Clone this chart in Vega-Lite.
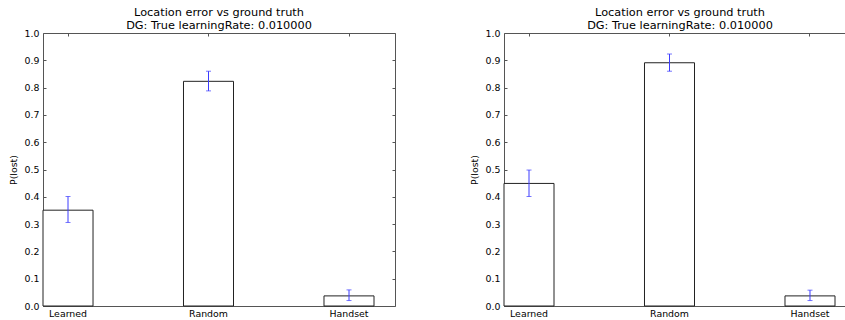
{
  "$schema": "https://vega.github.io/schema/vega-lite/v6.json",
  "padding": {"left": 8, "top": 7, "right": 0, "bottom": 0},
  "background": "white",
  "config": {
    "font": "DejaVu Sans",
    "view": {"stroke": null},
    "axis": {
      "labelFont": "DejaVu Sans", "labelFontSize": 9.4, "labelColor": "#000",
      "titleFont": "DejaVu Sans", "titleFontSize": 9.4, "titleFontWeight": "normal", "titleColor": "#000",
      "domainColor": "#555", "domainWidth": 1, "tickColor": "#555", "tickWidth": 1,
      "grid": false
    },
    "title": {"font": "DejaVu Sans", "fontSize": 11.3, "fontWeight": "normal", "color": "#000", "anchor": "middle", "frame": "group", "offset": -3, "lineHeight": 12.6}
  },
  "datasets": {
    "left": [
      {"method": "Learned", "p": 0.351, "lo": 0.306, "hi": 0.401},
      {"method": "Random", "p": 0.823, "lo": 0.788, "hi": 0.860},
      {"method": "Handset", "p": 0.037, "lo": 0.020, "hi": 0.059}
    ],
    "right": [
      {"method": "Learned", "p": 0.449, "lo": 0.401, "hi": 0.498},
      {"method": "Random", "p": 0.891, "lo": 0.860, "hi": 0.923},
      {"method": "Handset", "p": 0.037, "lo": 0.020, "hi": 0.058}
    ]
  },
  "spacing": 73,
  "hconcat": [
    {
      "width": 352, "height": 273,
      "data": {"name": "left"},
      "title": {"text": ["Location error vs ground truth", "DG: True learningRate: 0.010000"]},
      "resolve": {"axis": {"x": "independent", "y": "independent"}},
      "layer": [
        {
          "mark": {"type": "bar", "fill": "white", "stroke": "#222", "strokeWidth": 1},
          "encoding": {
            "x": {"field": "method", "type": "nominal", "sort": null,
                  "scale": {"paddingInner": 0.644, "paddingOuter": 0.0747, "align": 0},
                  "axis": {"orient": "bottom", "title": null, "labelAngle": 0, "tickSize": -3, "labelPadding": 6}},
            "y": {"field": "p", "type": "quantitative",
                  "scale": {"domain": [0, 1], "nice": false},
                  "axis": {"orient": "left", "title": "P(lost)", "values": [0,0.1,0.2,0.3,0.4,0.5,0.6,0.7,0.8,0.9,1.0], "format": ".1f", "tickSize": -3, "labelPadding": 7, "titlePadding": 6}}
          }
        },
        {
          "mark": {"type": "rule", "color": "#3c3cff", "strokeWidth": 1},
          "encoding": {
            "x": {"field": "method", "type": "nominal", "sort": null,
                  "axis": {"orient": "top", "title": null, "labels": false, "tickSize": -3}},
            "y": {"field": "lo", "type": "quantitative",
                  "axis": {"orient": "right", "title": null, "labels": false, "tickSize": -3, "values": [0,0.1,0.2,0.3,0.4,0.5,0.6,0.7,0.8,0.9,1.0]}},
            "y2": {"field": "hi"}
          }
        },
        {
          "mark": {"type": "tick", "color": "#3c3cff", "size": 5, "thickness": 1},
          "encoding": {
            "x": {"field": "method", "type": "nominal", "sort": null, "axis": null},
            "y": {"field": "lo", "type": "quantitative", "axis": null}
          }
        },
        {
          "mark": {"type": "tick", "color": "#3c3cff", "size": 5, "thickness": 1},
          "encoding": {
            "x": {"field": "method", "type": "nominal", "sort": null, "axis": null},
            "y": {"field": "hi", "type": "quantitative", "axis": null}
          }
        }
      ]
    },
    {
      "width": 343, "height": 273,
      "data": {"name": "right"},
      "title": {"text": ["Location error vs ground truth", "DG: True learningRate: 0.010000"], "dx": 4.5},
      "resolve": {"axis": {"x": "independent", "y": "independent"}},
      "layer": [
        {
          "mark": {"type": "bar", "fill": "white", "stroke": "#222", "strokeWidth": 1},
          "encoding": {
            "x": {"field": "method", "type": "nominal", "sort": null,
                  "scale": {"paddingInner": 0.644, "paddingOuter": 0.0427, "align": 0},
                  "axis": {"orient": "bottom", "title": null, "labelAngle": 0, "tickSize": -3, "labelPadding": 6}},
            "y": {"field": "p", "type": "quantitative",
                  "scale": {"domain": [0, 1], "nice": false},
                  "axis": {"orient": "left", "title": "P(lost)", "values": [0,0.1,0.2,0.3,0.4,0.5,0.6,0.7,0.8,0.9,1.0], "format": ".1f", "tickSize": -3, "labelPadding": 7, "titlePadding": 6}}
          }
        },
        {
          "mark": {"type": "rule", "color": "#3c3cff", "strokeWidth": 1},
          "encoding": {
            "x": {"field": "method", "type": "nominal", "sort": null,
                  "axis": {"orient": "top", "title": null, "labels": false, "tickSize": -3}},
            "y": {"field": "lo", "type": "quantitative", "axis": null},
            "y2": {"field": "hi"}
          }
        },
        {
          "mark": {"type": "tick", "color": "#3c3cff", "size": 5, "thickness": 1},
          "encoding": {
            "x": {"field": "method", "type": "nominal", "sort": null, "axis": null},
            "y": {"field": "lo", "type": "quantitative", "axis": null}
          }
        },
        {
          "mark": {"type": "tick", "color": "#3c3cff", "size": 5, "thickness": 1},
          "encoding": {
            "x": {"field": "method", "type": "nominal", "sort": null, "axis": null},
            "y": {"field": "hi", "type": "quantitative", "axis": null}
          }
        }
      ]
    }
  ]
}
